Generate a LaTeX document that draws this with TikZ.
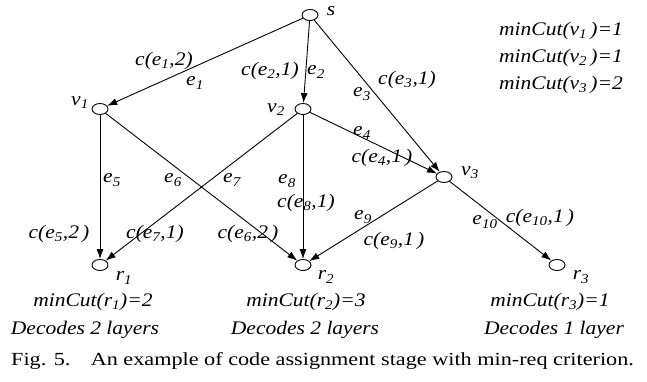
\documentclass[tikz,border=0pt]{standalone}
\usepackage{fontspec}
\setmainfont[FakeStretch=1.12]{Liberation Serif}
\newfontfamily\capfont[FakeStretch=1.2]{Liberation Serif}
\usetikzlibrary{shapes.geometric,arrows.meta}
\begin{document}
\begin{tikzpicture}[
  x=1pt, y=-1pt,
  line cap=round,
  line join=round,
  vertex/.style={draw, ellipse, minimum width=16pt, minimum height=11pt, inner sep=0pt, line width=0.9pt},
  link/.style={line width=0.9pt, -{Latex[length=10pt,width=7pt]}},
  lbl/.style={font=\fontsize{19.2}{23}\selectfont\itshape, inner sep=0pt}
]
  \useasboundingbox (0,0) rectangle (647,381);

  % Vertices
  \node[vertex] (s)  at (310,15)  {};
  \node[vertex] (v1) at (100,109) {};
  \node[vertex] (v2) at (303,109) {};
  \node[vertex] (v3) at (444,177) {};
  \node[vertex] (r1) at (100,265) {};
  \node[vertex] (r2) at (303,265) {};
  \node[vertex] (r3) at (557,265) {};

  % Edges
  \draw[link] (s)  -- (v1);
  \draw[link] (s)  -- (v2);
  \draw[link] (s)  -- (v3);
  \draw[link] (v2) -- (v3);
  \draw[link] (v1) -- (r1);
  \draw[link] (v1) -- (r2);
  \draw[link] (v2) -- (r1);
  \draw[link] (v2) -- (r2);
  \draw[link] (v3) -- (r2);
  \draw[link] (v3) -- (r3);

  % Vertex names
  \node[lbl] (ns)  at (331,11)  {s};
  \node[lbl] (nv1) at (80,103)  {v\textsubscript{1}};
  \node[lbl] (nv2) at (276,110) {v\textsubscript{2}};
  \node[lbl] (nv3) at (470,173) {v\textsubscript{3}};
  \node[lbl] (nr1) at (124,278) {r\textsubscript{1}};
  \node[lbl] (nr2) at (326,277) {r\textsubscript{2}};
  \node[lbl] (nr3) at (581,277) {r\textsubscript{3}};

  % Edge names and codes
  \node[lbl] (c1) at (164,61)  {c(e\textsubscript{1},2)};
  \node[lbl] (e1) at (195,83)  {e\textsubscript{1}};
  \node[lbl] (c2) at (270,71)  {c(e\textsubscript{2},1)};
  \node[lbl] (e2) at (316,72)  {e\textsubscript{2}};
  \node[lbl] (c3) at (407,80)  {c(e\textsubscript{3},1)};
  \node[lbl] (e3) at (362,94)  {e\textsubscript{3}};
  \node[lbl] (e4) at (362,133) {e\textsubscript{4}};
  \node[lbl] (c4) at (382,158) {c(e\textsubscript{4},1\,)};
  \node[lbl] (e5) at (112,180) {e\textsubscript{5}};
  \node[lbl] (c5) at (59,234)  {c(e\textsubscript{5},2\,)};
  \node[lbl] (e6) at (173,180) {e\textsubscript{6}};
  \node[lbl] (c6) at (248,234) {c(e\textsubscript{6},2\,)};
  \node[lbl] (e7) at (232,180) {e\textsubscript{7}};
  \node[lbl] (c7) at (155,234) {c(e\textsubscript{7},1)};
  \node[lbl] (e8) at (287,181) {e\textsubscript{8}};
  \node[lbl] (c8) at (306,203) {c(e\textsubscript{8},1)};
  \node[lbl] (e9) at (363,217) {e\textsubscript{9}};
  \node[lbl] (c9) at (394,241) {c(e\textsubscript{9},1\,)};
  \node[lbl] (e10) at (485,222) {e\textsubscript{10}};
  \node[lbl] (c10) at (540,218) {c(e\textsubscript{10},1\,)};

  % Min-cut values
  \node[lbl, anchor=west] (mv1) at (499,31) {minCut(v\textsubscript{1}\,)=1};
  \node[lbl, anchor=west] (mv2) at (499,58) {minCut(v\textsubscript{2}\,)=1};
  \node[lbl, anchor=west] (mv3) at (499,85) {minCut(v\textsubscript{3}\,)=2};
  \node[lbl] (mr1) at (93,302)  {minCut(r\textsubscript{1})=2};
  \node[lbl] (mr2) at (306,302) {minCut(r\textsubscript{2})=3};
  \node[lbl] (mr3) at (550,302) {minCut(r\textsubscript{3})=1};
  \node[lbl] (dr1) at (85,330)  {Decodes 2 layers};
  \node[lbl] (dr2) at (305,330) {Decodes 2 layers};
  \node[lbl] (dr3) at (554,330) {Decodes 1 layer};

  % Caption
  \node[font=\capfont\fontsize{18.5}{22}\selectfont, inner sep=0pt, anchor=west] (cap) at (11,361)
    {Fig. 5.\hspace{1.1em}An example of code assignment stage with min-req criterion.};
\end{tikzpicture}
\end{document}
